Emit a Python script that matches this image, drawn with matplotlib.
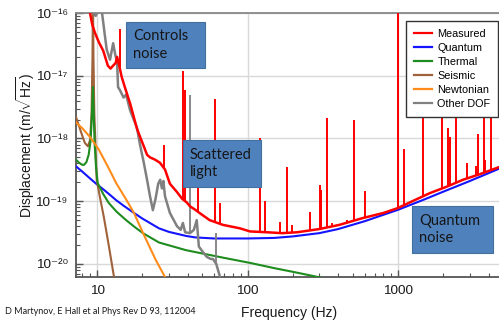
import numpy as np
import matplotlib
matplotlib.use("Agg")
import matplotlib.pyplot as plt
from matplotlib.patches import Rectangle
from matplotlib.lines import Line2D
from matplotlib.ticker import LogLocator, NullFormatter

plt.rcParams['font.family'] = ['Liberation Sans', 'DejaVu Sans']
plt.rcParams['mathtext.fontset'] = 'custom'
plt.rcParams['mathtext.rm'] = 'Liberation Sans'
plt.rcParams['mathtext.it'] = 'Liberation Sans:italic'

# ---------------- data ----------------
quantum_f = [7.25, 8, 9, 10, 11, 12.5, 13.4, 15, 17.3, 20, 25.8, 30, 39, 45, 60, 80, 100, 150,
             200, 300, 400, 600, 1000, 1500, 2000, 3000, 4700]
quantum_v = [3.6e-19, 2.95e-19, 2.3e-19, 1.85e-19, 1.55e-19, 1.2e-19, 1.04e-19, 8.5e-20, 6.7e-20,
             5.3e-20, 3.7e-20, 3.25e-20, 2.8e-20, 2.65e-20, 2.55e-20, 2.55e-20, 2.55e-20, 2.6e-20,
             2.75e-20, 3.1e-20, 3.6e-20, 4.8e-20, 7.3e-20, 1.07e-19, 1.42e-19, 2.1e-19, 3.3e-19]

thermal_f = [7.25, 7.6, 8.0, 8.2, 8.5, 8.8, 9.05, 9.2, 9.3, 9.4, 9.5, 9.65, 9.85, 10.1, 11.0,
             12.0, 13.5, 15.6, 18.0, 20.2, 25.8, 32, 39, 48, 70, 104, 150, 200, 294, 320]
thermal_v = [4.6e-19, 4.1e-19, 3.8e-19, 3.8e-19, 4.2e-19, 5.5e-19, 9e-19, 1.8e-18, 3.5e-18, 6.6e-18,
             2.5e-18, 8e-19, 3.5e-19, 1.95e-19, 1.3e-19, 9.3e-20, 6.8e-20, 5.0e-20, 3.8e-20, 3.1e-20,
             2.2e-20, 1.9e-20, 1.66e-20, 1.5e-20, 1.25e-20, 1.04e-20, 8.6e-21, 7.5e-21, 6.2e-21, 5.9e-21]

seismic_f = [7.25, 7.8, 8.3, 8.7, 9.0, 9.2, 9.33, 9.4, 9.47, 9.6, 9.95, 10.5, 11.1, 12.0, 12.97, 13.3]
seismic_v = [2.2e-18, 1.3e-18, 8.5e-19, 7.5e-19, 9.5e-19, 2.5e-18, 2e-17, 2e-16, 2e-17, 2.5e-18,
             2.2e-19, 1.1e-19, 5.6e-20, 1.9e-20, 6.2e-21, 4.5e-21]

newton_f = [7.25, 8, 9, 10.3, 12, 13.4, 15.5, 17.6, 20.5, 24.6, 28.3, 29.5]
newton_v = [1.8e-18, 1.45e-18, 1.05e-18, 6.6e-19, 3.3e-19, 1.95e-19, 1.1e-19, 6.5e-20, 2.9e-20,
            1.15e-20, 6.2e-21, 5.0e-21]

other_f = [8.7, 9.2, 9.8, 10.3, 10.8, 11.2, 11.6, 12.2, 12.8, 13.2, 13.6, 13.8, 14.2, 15.0, 15.6,
           16.6, 18.4, 19.3, 20.5, 21.5, 22.5, 23.5, 24.5, 25.5, 26.3, 27.0, 27.6, 28.3, 30.5, 34.0,
           36.0, 37.2, 38.5, 41.5, 44.0, 46.0, 47.5, 50.0, 53.6, 57.0, 59.0, 62.0, 65.7, 68.0]
other_v = [1.3e-16, 1.1e-16, 9e-17, 1.2e-16, 1e-16, 5e-17, 2.6e-17, 1.8e-17, 3.3e-17, 2.2e-17,
           1.6e-17, 6.6e-18, 5.9e-18, 4.5e-18, 5e-18, 2.8e-18, 1.5e-18, 8e-19, 4e-19, 2.2e-19,
           1.2e-19, 7.2e-20, 1.1e-19, 1.9e-19, 2.2e-19, 1.6e-19, 2.1e-19, 1.2e-19, 6.5e-20, 4e-20,
           3.5e-20, 4.5e-20, 3.2e-20, 3.1e-20, 3.5e-20, 5e-20, 1.9e-20, 1.6e-20, 1.3e-20, 1.2e-20,
           1.2e-20, 1.0e-20, 6.2e-21, 5.0e-21]
other_spike_f = [41.5, 62.0]
other_spike_top = [4.9e-18, 3.1e-20]

meas_f = [8.95, 9.3, 9.7, 10.3, 11.0, 11.8, 12.3, 12.8, 13.3, 13.6, 14.0, 14.6, 15.3, 16.6, 18.4,
          19.3, 20.5, 21.5, 22.5, 24.3, 26.2, 28.3, 30.5, 34.0, 36.7, 39.6, 41.5, 45, 48, 56, 68.6,
          89, 104, 135, 170, 213, 300, 408, 585, 800, 1000, 1300, 1633, 2100, 2705, 3500, 4700]
meas_v = [1.05e-16, 6.5e-17, 4.8e-17, 3.4e-17, 2.5e-17, 1.45e-17, 1.3e-17, 1.45e-17, 1.6e-17,
          2.0e-17, 1.5e-17, 9.5e-18, 6.6e-18, 3.6e-18, 1.45e-18, 1.07e-18, 7.4e-19, 5.5e-19, 5.0e-19,
          4.6e-19, 4.1e-19, 3.2e-19, 1.9e-19, 1.4e-19, 1.1e-19, 9.5e-20, 8.3e-20, 7.3e-20, 6.5e-20,
          5.0e-20, 4.2e-20, 3.7e-20, 3.3e-20, 3.2e-20, 3.1e-20, 3.2e-20, 3.6e-20, 4.2e-20, 5.4e-20,
          6.5e-20, 7.8e-20, 1.05e-19, 1.35e-19, 1.7e-19, 2.2e-19, 2.7e-19, 3.5e-19]

spike_f = [14.2, 28.0, 37.1, 38.3, 46.9, 60.8, 65.7, 121, 131, 164, 182, 197, 260, 303, 306, 336,
           362, 456, 510, 604, 995, 1005, 1096, 1473, 1959, 2148, 2214, 2427, 2873, 3296, 3381,
           3700, 3760, 4120]
spike_top = [5.6e-17, 8e-19, 1.2e-17, 6e-18, 1.8e-19, 4.3e-18, 9.3e-20, 1e-18, 1e-19, 4.6e-20,
             3.55e-19, 4.2e-20, 6.8e-20, 1.8e-19, 1.5e-19, 2.1e-18, 4.5e-20, 5e-20, 2.0e-18,
             1.45e-19, 3e-16, 3e-16, 6.8e-19, 5e-17, 5e-17, 1.47e-18, 1.05e-18, 5e-17, 4.1e-19,
             3.6e-19, 1.2e-18, 5e-17, 4.6e-19, 5e-17]

series_names = ['Measured', 'Quantum', 'Thermal', 'Seismic', 'Newtonian', 'Other DOF']
series_colors = ['#ff0000', '#1414ff', '#1e8c1e', '#a0623a', '#ff8c1a', '#808080']

x_ticks = [10, 100, 1000]
x_tick_labels = ['10', '100', '1000']
y_ticks = [1e-20, 1e-19, 1e-18, 1e-17, 1e-16]
y_tick_labels = ['10⁻²⁰', '10⁻¹⁹', '10⁻¹⁸', '10⁻¹⁷', '10⁻¹⁶']

notes = ['Controls\nnoise', 'Scattered\nlight', 'Quantum\nnoise']
credit = 'D Martynov, E Hall et al Phys Rev D 93, 112004'

# ---------------- figure ----------------
W, H = 499, 320
fig = plt.figure(figsize=(W / 100, H / 100), dpi=100)
ax = fig.add_axes([76 / W, 1 - 277 / H, 1 - 76 / W, (277 - 13) / H])

c = dict(zip(series_names, series_colors))
lw = 1.5
ax.plot(quantum_f, quantum_v, color=c['Quantum'], lw=lw, zorder=3)
ax.plot(seismic_f, seismic_v, color=c['Seismic'], lw=lw, zorder=3)
ax.plot(thermal_f, thermal_v, color=c['Thermal'], lw=lw, zorder=3)
ax.plot(newton_f, newton_v, color=c['Newtonian'], lw=lw, zorder=3)
ax.plot(other_f, other_v, color=c['Other DOF'], lw=1.8, zorder=4)
o_base = 10 ** np.interp(np.log10(other_spike_f), np.log10(other_f), np.log10(other_v))
ax.vlines(other_spike_f, o_base, other_spike_top, color=c['Other DOF'], lw=1.3, zorder=4)

ax.plot(meas_f, meas_v, color=c['Measured'], lw=1.8, zorder=5)
m_base = 10 ** np.interp(np.log10(spike_f), np.log10(meas_f), np.log10(meas_v))
ax.vlines(spike_f, m_base, spike_top, color=c['Measured'], lw=1.4, zorder=5)

ax.set_xscale('log')
ax.set_yscale('log')
ax.set_xlim(7.25, 4690)
ax.set_ylim(6.2e-21, 1e-16)

ax.set_xticks(x_ticks)
ax.set_xticklabels(x_tick_labels)
ax.set_yticks(y_ticks)
ax.set_yticklabels(y_tick_labels)
ax.yaxis.set_minor_locator(LogLocator(base=10, subs=np.arange(2, 10), numticks=20))
ax.yaxis.set_minor_formatter(NullFormatter())
ax.xaxis.set_minor_formatter(NullFormatter())

ax.tick_params(which='both', direction='in', colors='#555555', labelcolor='#1a1a1a',
               labelsize=9.7, top=False, right=False)
ax.tick_params(which='major', length=5, width=1.0, pad=6)
ax.tick_params(which='minor', length=3, width=0.8)

ax.grid(True, which='major', color='#d9d9d9', lw=1.0, zorder=0)
ax.set_axisbelow(True)
for s in ['left', 'bottom']:
    ax.spines[s].set_color('#555555')
    ax.spines[s].set_linewidth(1.3)
ax.spines['top'].set_color('#888888')
ax.spines['top'].set_linewidth(1.3)
ax.spines['right'].set_visible(False)

fig.text(289 / W, 1 - 313 / H, 'Frequency (Hz)', ha='center', va='center', fontsize=10, color='#1a1a1a')
fig.text(26 / W, 1 - 145 / H, r'Displacement (m/$\sqrt{\mathrm{Hz}}$)', ha='center', va='center',
         rotation=90, fontsize=10, color='#1a1a1a')

fig.text(5 / W, 1 - 312 / H, credit, ha='left', va='center', fontsize=6.5, family='Lato', color='#1a1a1a')

# legend
handles = [Line2D([], [], color=col, lw=1.6) for col in series_colors]
leg = ax.legend(handles, series_names, loc='upper right', bbox_to_anchor=(498 / W, 1 - 21 / H),
                bbox_transform=fig.transFigure, borderaxespad=0, fontsize=7.8, frameon=True,
                fancybox=False, edgecolor='#333333', framealpha=1, labelspacing=0.38,
                handlelength=1.7, handletextpad=0.45, borderpad=0.7)
leg.get_frame().set_linewidth(1.0)
leg.set_zorder(10)

# annotation boxes
boxes = [(126, 22, 205, 68, 133), (183, 140, 261, 187, 190), (412, 206, 493, 253, 419)]
for (x0, y0, x1, y1, tx), note in zip(boxes, notes):
    r = Rectangle((x0 / W, 1 - y1 / H), (x1 - x0) / W, (y1 - y0) / H, transform=fig.transFigure,
                  facecolor='#4f81bd', edgecolor='#41709f', lw=0.8, zorder=20)
    fig.add_artist(r)
    fig.text(tx / W, 1 - (y0 + y1) / 2 / H, note, ha='left', va='center', fontsize=10.5,
             family='Lato', color='#161616', linespacing=1.3, zorder=21)

fig.savefig('out.png', dpi=100)
